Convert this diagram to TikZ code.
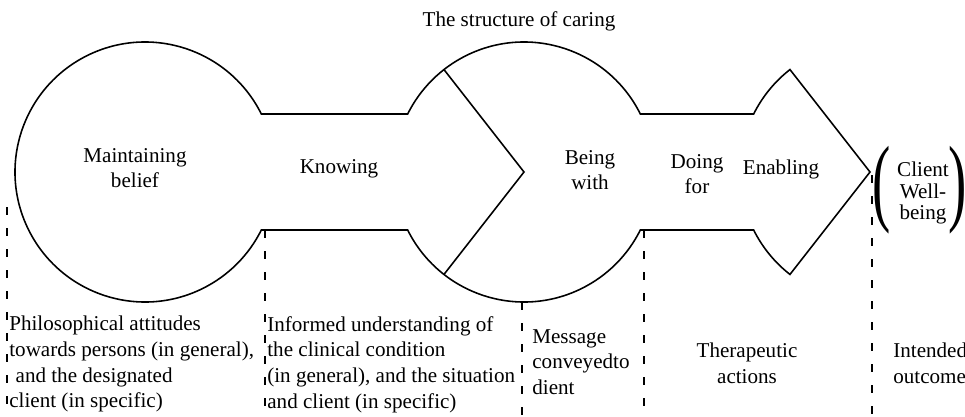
\documentclass[tikz,border=0pt]{standalone}
\usepackage{fontspec}
\setmainfont{Liberation Serif}
\usepackage{graphicx}
\usepackage{tikz}
\usetikzlibrary{math, calc}

\begin{document}
\begin{tikzpicture}
    \tikzset{%
        outline/.style={line width=0.9pt, line join=miter},
        divider/.style={line width=0.7pt, dash pattern=on 0.16cm off 0.26cm},
        phase/.style={font=\fontsize{12}{14.6}\selectfont, inner sep=0pt, align=center},
        detail/.style={font=\fontsize{12}{14.6}\selectfont, inner sep=0pt, align=left, anchor=north west},
        bracket/.style={font=\fontsize{12}{14.6}\selectfont, inner sep=0pt}
    }
    \tikzmath{%
        \rad=2.6;
        \shaft=1.16;
        \neck=asin(\shaft/\rad);
        \cut=128;
    }

    \useasboundingbox (0, -4.9) rectangle (19.3, 3.44);

    \coordinate (belief) at (2.9, 0);
    \coordinate (with) at (10.48, 0);
    \coordinate (tip) at (17.4, 0);
    \coordinate (floor) at (0, -4.9);

    \draw [outline] ($(belief)+(\neck:\rad)$) arc [start angle=\neck, end angle=360-\neck, radius=\rad]
        -- ($(with)+(180+\neck:\rad)$) arc [start angle=180+\neck, end angle=360-\neck, radius=\rad]
        -- ($(tip)+(180+\neck:\rad)$) arc [start angle=180+\neck, end angle=360-\cut, radius=\rad]
        -- (tip) -- ($(tip)+(\cut:\rad)$) arc [start angle=\cut, end angle=180-\neck, radius=\rad]
        -- ($(with)+(\neck:\rad)$) arc [start angle=\neck, end angle=180-\neck, radius=\rad]
        -- cycle;
    \draw [outline] ($(with)+(\cut:\rad)$) -- (with) -- ($(with)+(360-\cut:\rad)$);

    \coordinate (d1) at (0.14, -0.7);
    \coordinate (d2) at (5.3, -\shaft);
    \coordinate (d3) at (10.44, -\rad);
    \coordinate (d4) at (12.88, -\shaft);
    \coordinate (d5) at (17.44, -0.06);
    \foreach \n in {d1, d2, d3, d4, d5} {%
            \draw [divider] (\n) -- (\n |- floor);
        };

    \node (title) [phase] at (10.38, 3.02) {The structure of caring};
    \node (maintaining) [phase] at (2.7, 0.08) {Maintaining\\belief};
    \node (knowing) [phase] at (6.78, 0.06) {Knowing};
    \node (being) [phase] at (11.8, 0.04) {Being\\with};
    \node (doing) [phase] at (13.94, -0.04) {Doing\\for};
    \node (enabling) [phase] at (15.62, 0.06) {Enabling};
    \node (wellbeing) [phase, font=\fontsize{12}{12.2}\selectfont] at (18.46, -0.42) {Client\\Well-\\being};
    \node (open) [bracket] at (17.63, -0.36) {\scalebox{2.6}[4.6]{(}};
    \node (close) [bracket] at (19.15, -0.36) {\scalebox{2.6}[4.6]{)}};

    \node (attitudes) [detail] at (0.18, -2.88) {Philosophical attitudes\\towards persons (in general),\\\hspace{0.3em}and the designated\\client (in specific)};
    \node (understanding) [detail] at (5.34, -2.88) {Informed understanding of\\the clinical condition\\(in general), and the situation\\and client (in specific)};
    \node (message) [detail] at (10.64, -3.14) {Message\\conveyedto\\dient};
    \node (actions) [detail, align=center, anchor=north] at (14.94, -3.42) {Therapeutic\\actions};
    \node (outcome) [detail] at (17.86, -3.42) {Intended\\outcome};
\end{tikzpicture}
\end{document}
